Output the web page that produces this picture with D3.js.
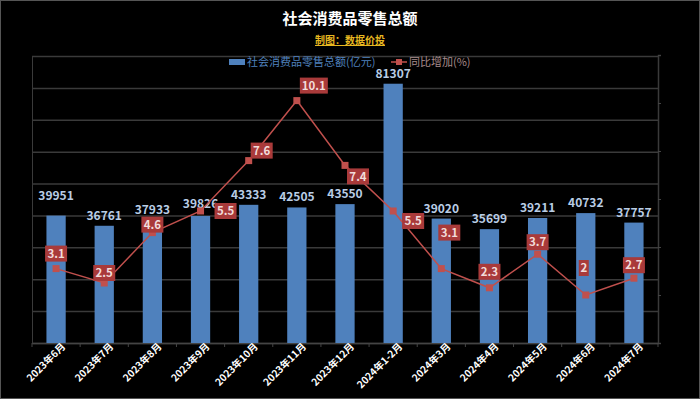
<!DOCTYPE html>
<html>
<head>
<meta charset="utf-8">
<script src="https://cdn.jsdelivr.net/npm/d3@7"></script>
<style>
  body { margin: 0; background: #000; }
  text { font-family: "Noto Sans CJK SC", "Noto Sans", sans-serif; }
</style>
</head>
<body>
<div id="graph"></div>
<script>
let width = 700, height = 399;

// data
let months = ["2023年6月","2023年7月","2023年8月","2023年9月","2023年10月","2023年11月","2023年12月",
              "2024年1-2月","2024年3月","2024年4月","2024年5月","2024年6月","2024年7月"];
let sales = [39951, 36761, 37933, 39826, 43333, 42505, 43550, 81307, 39020, 35699, 39211, 40732, 37757];
let growth = [3.1, 2.5, 4.6, 5.5, 7.6, 10.1, 7.4, 5.5, 3.1, 2.3, 3.7, 2, 2.7];

// where each growth label box sits relative to its point
let labelShift = [[0,-15],[0,-10],[0,-8],[25,0],[13,-10],[17,-15],[13,11],[20,10],[8,-36],[0,-16],[0,-12],[-2,-27],[0,-13]];
// extra lift for a few bar labels
let barLift = [10, 0, 2, 2, 0, 0, 0, 0, 0, 0, 0, 0, 0];

let svg = d3.select("#graph").append("svg")
    .attr("width", width).attr("height", height);

svg.append("rect")
  .attr("x", 0.5).attr("y", 0.5)
  .attr("width", width - 1).attr("height", height - 1)
  .attr("fill", "#000")
  .attr("stroke", "#555");

// title
svg.append("text")
  .attr("x", 350).attr("y", 24)
  .attr("text-anchor", "middle")
  .attr("fill", "#fff")
  .style("font-size", "15px").style("font-weight", "bold")
  .text("社会消费品零售总额");

svg.append("text")
  .attr("x", 350).attr("y", 44)
  .attr("text-anchor", "middle")
  .attr("fill", "#e8b820")
  .style("font-size", "10px").style("font-weight", "bold")
  .style("text-decoration", "underline")
  .text("制图：数据价投");

let plotL = 32, plotR = 658, plotT = 56, plotB = 343;

let x = d3.scaleBand().domain(months).range([plotL, plotR]).paddingInner(0.6).paddingOuter(0.3);
let y = d3.scaleLinear().domain([0, 90000]).range([plotB, plotT]);
let y2 = d3.scaleLinear().domain([0, 12]).range([plotB, plotB - 288]);

// grid
svg.append("g")
  .attr("transform", "translate(" + plotL + ",0)")
  .call(d3.axisLeft(y).ticks(9).tickSize(-(plotR - plotL)).tickFormat(""))
  .call(g => g.selectAll("line").attr("stroke", "#3a3a3a").attr("stroke-width", 1.5))
  .call(g => g.select(".domain").attr("stroke", "#3a3a3a"));

// right axis ticks
svg.append("g")
  .attr("transform", "translate(" + plotR + ",0)")
  .call(d3.axisRight(y2).ticks(6).tickSize(3).tickFormat(""))
  .call(g => g.selectAll("line").attr("stroke", "#444"))
  .call(g => g.select(".domain").attr("stroke", "#3a3a3a").attr("stroke-width", 1.5));

// bottom axis
let xAxis = svg.append("g")
  .attr("transform", "translate(0," + plotB + ")")
  .call(d3.axisBottom(x).tickSize(0).tickPadding(8));
xAxis.select(".domain").attr("stroke", "#444").attr("stroke-width", 1.5);
xAxis.selectAll("text")
  .attr("fill", "#fff")
  .style("font-size", "10px").style("font-weight", "bold")
  .attr("text-anchor", "end")
  .attr("dx", "4px").attr("dy", "2px")
  .attr("transform", "rotate(-45)");
svg.append("g").selectAll("line")
  .data(months.concat([null]))
  .enter().append("line")
  .attr("x1", (d, i) => plotL + i * (plotR - plotL) / months.length)
  .attr("x2", (d, i) => plotL + i * (plotR - plotL) / months.length)
  .attr("y1", plotB).attr("y2", plotB + 4)
  .attr("stroke", "#444");

// bars
svg.append("g").selectAll("rect")
  .data(sales)
  .enter().append("rect")
  .attr("x", (d, i) => x(months[i]))
  .attr("y", d => y(d))
  .attr("width", x.bandwidth())
  .attr("height", d => plotB - y(d))
  .attr("fill", "#4f81bd");

svg.append("g").selectAll("text")
  .data(sales)
  .enter().append("text")
  .attr("x", (d, i) => x(months[i]) + x.bandwidth() / 2)
  .attr("y", (d, i) => y(d) - 6 - barLift[i])
  .attr("text-anchor", "middle")
  .attr("fill", "#b9cde5")
  .style("font-size", "12px").style("font-weight", "bold")
  .text(d => d);

// line
let cx = (d, i) => x(months[i]) + x.bandwidth() / 2;
let line = d3.line().x(cx).y(d => y2(d));
svg.append("path")
  .datum(growth)
  .attr("d", line)
  .attr("fill", "none")
  .attr("stroke", "#c0504d")
  .attr("stroke-width", 1.5);

svg.append("g").selectAll("rect")
  .data(growth)
  .enter().append("rect")
  .attr("x", (d, i) => cx(d, i) - 3.5)
  .attr("y", d => y2(d) - 3.5)
  .attr("width", 7).attr("height", 7)
  .attr("fill", "#c0504d");

let labels = svg.append("g").selectAll("g")
  .data(growth)
  .enter().append("g")
  .attr("transform", (d, i) => "translate(" + (cx(d, i) + labelShift[i][0]) + "," + (y2(d) + labelShift[i][1]) + ")");
labels.append("rect")
  .attr("x", d => -(String(d).length * 3 + 2))
  .attr("y", -8)
  .attr("width", d => String(d).length * 6 + 4)
  .attr("height", 16)
  .attr("fill", "#a93a3a");
labels.append("text")
  .attr("text-anchor", "middle")
  .attr("dy", "0.36em")
  .attr("fill", "#f2dcdb")
  .style("font-size", "11.5px").style("font-weight", "bold")
  .text(d => d);

// legend
let legend = svg.append("g");
legend.append("rect")
  .attr("x", 229).attr("y", 59).attr("width", 16).attr("height", 6)
  .attr("fill", "#4f81bd");
legend.append("text")
  .attr("x", 247).attr("y", 66)
  .attr("fill", "#4f81bd")
  .style("font-size", "11px")
  .text("社会消费品零售总额(亿元)");
legend.append("line")
  .attr("x1", 391).attr("x2", 407).attr("y1", 62).attr("y2", 62)
  .attr("stroke", "#c0504d").attr("stroke-width", 1.5);
legend.append("rect")
  .attr("x", 396).attr("y", 59).attr("width", 6).attr("height", 6)
  .attr("fill", "#c0504d");
legend.append("text")
  .attr("x", 409).attr("y", 66)
  .attr("fill", "#a88b8b")
  .style("font-size", "11px")
  .text("同比增加(%)");
</script>
</body>
</html>
